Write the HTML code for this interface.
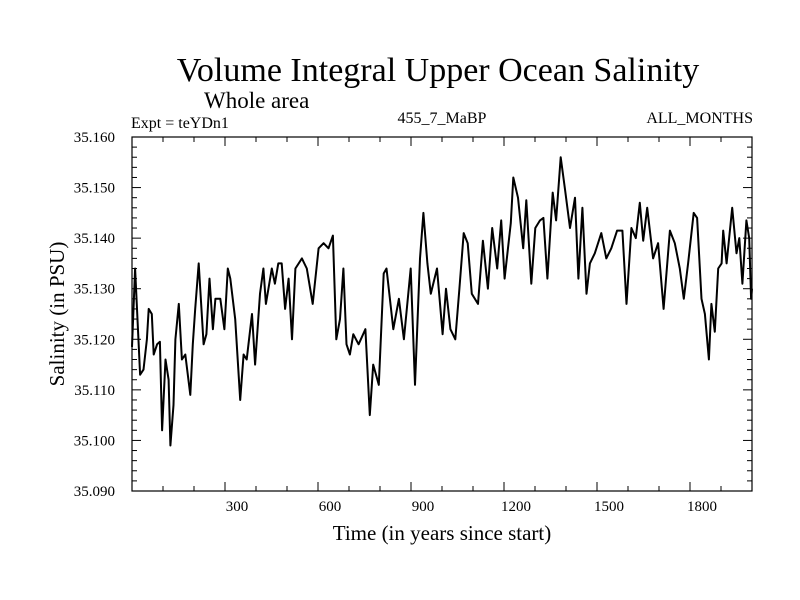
<!DOCTYPE html>
<html><head><meta charset="utf-8"><style>
body{margin:0;background:#fff;}
svg{display:block;font-family:"Liberation Serif",serif;}
</style></head><body>
<svg id="chart" width="800" height="600">
<rect width="800" height="600" fill="#fff"/>
<text x="438" y="81" font-size="34" text-anchor="middle">Volume Integral Upper Ocean Salinity</text>
<text x="204" y="108" font-size="23">Whole area</text>
<text x="131" y="128" font-size="16">Expt = teYDn1</text>
<text x="442" y="123" font-size="16" text-anchor="middle">455_7_MaBP</text>
<text x="753" y="123" font-size="16" text-anchor="end">ALL_MONTHS</text>
<text x="442" y="540" font-size="21" text-anchor="middle">Time (in years since start)</text>
<text x="0" y="0" font-size="21" text-anchor="middle" transform="translate(64,314) rotate(-90)">Salinity (in PSU)</text>
<g id="axes"></g>
</svg>
<script>
const years=[0,10,20,26,37,48,54,64,70,81,90,97,108,118,124,134,140,151,161,172,188,196,204,215,231,240,250,261,269,285,298,309,317,333,349,360,370,387,397,413,424,432,451,461,472,483,494,505,516,527,548,564,583,602,618,634,648,659,671,682,692,703,714,731,753,767,778,796,812,821,832,843,861,877,899,913,929,940,953,964,984,1002,1013,1027,1043,1056,1070,1083,1096,1116,1132,1148,1162,1178,1191,1202,1222,1230,1245,1262,1272,1288,1301,1316,1327,1340,1357,1368,1383,1397,1413,1429,1440,1453,1466,1477,1493,1514,1530,1546,1565,1582,1595,1611,1625,1638,1649,1662,1681,1697,1715,1735,1751,1767,1780,1794,1812,1823,1837,1848,1861,1869,1880,1891,1902,1907,1918,1936,1950,1959,1969,1982,1991,1997,2000];
const salinity=[35.1185,35.134,35.121,35.113,35.114,35.120,35.126,35.125,35.117,35.119,35.1195,35.102,35.116,35.112,35.099,35.107,35.120,35.127,35.116,35.117,35.109,35.119,35.126,35.135,35.119,35.121,35.132,35.122,35.128,35.128,35.122,35.134,35.132,35.124,35.108,35.117,35.116,35.125,35.115,35.129,35.134,35.127,35.134,35.131,35.135,35.135,35.126,35.132,35.120,35.134,35.136,35.134,35.127,35.138,35.139,35.138,35.1405,35.120,35.124,35.134,35.119,35.117,35.121,35.119,35.122,35.105,35.115,35.111,35.133,35.134,35.128,35.122,35.128,35.120,35.134,35.111,35.136,35.145,35.135,35.129,35.134,35.121,35.130,35.122,35.120,35.130,35.141,35.139,35.129,35.127,35.1395,35.130,35.142,35.134,35.1435,35.132,35.143,35.152,35.148,35.138,35.1475,35.131,35.142,35.1435,35.144,35.132,35.149,35.1435,35.156,35.1495,35.142,35.148,35.132,35.146,35.129,35.135,35.137,35.141,35.136,35.138,35.1415,35.1415,35.127,35.142,35.140,35.147,35.1395,35.146,35.136,35.139,35.126,35.1415,35.139,35.134,35.128,35.135,35.145,35.144,35.128,35.125,35.116,35.127,35.1215,35.134,35.135,35.1415,35.135,35.146,35.137,35.140,35.131,35.1435,35.140,35.128,35.130];
const yTicks=[35.090,35.100,35.110,35.120,35.130,35.140,35.150,35.160];
const yTickLabels=["35.090","35.100","35.110","35.120","35.130","35.140","35.150","35.160"];
const xTicks=[300,600,900,1200,1500,1800];
const xTickLabels=["300","600","900","1200","1500","1800"];

const L=132,R=752,T=137,B=491,X0=0,X1=2000,Y0=35.090,Y1=35.160;
const sx=v=>L+(v-X0)/(X1-X0)*(R-L);
const sy=v=>B-(v-Y0)/(Y1-Y0)*(B-T);
const NS="http://www.w3.org/2000/svg";
const g=document.getElementById('axes');
function mk(tag,attrs){const e=document.createElementNS(NS,tag);for(const k in attrs)e.setAttribute(k,attrs[k]);g.appendChild(e);return e;}
const frame=mk('rect',{x:L,y:T,width:R-L,height:B-T,fill:'none',stroke:'#000','stroke-width':1.2});


for(let i=0;i<=35;i++){
  const v=Y0+i*0.002;const y=sy(v);const major=i%5===0;const len=major?9:5;
  const t1=mk('line',{x1:L,x2:L+len,y1:y,y2:y,stroke:'#000','stroke-width':1});
  
  
  const t2=mk('line',{x1:R,x2:R-len,y1:y,y2:y,stroke:'#000','stroke-width':1});
  
  
}
yTicks.forEach((v,i)=>{
  const t=mk('text',{x:L-17,y:sy(v)+5,'font-size':15,'text-anchor':'end'});
  t.textContent=yTickLabels[i];
  
  
});
for(let yr=100;yr<2000;yr+=100){
  const x=sx(yr);const major=yr%300===0;const len=major?9:5;
  const t1=mk('line',{x1:x,x2:x,y1:B,y2:B-len,stroke:'#000','stroke-width':1});
  
  
  const t2=mk('line',{x1:x,x2:x,y1:T,y2:T+len,stroke:'#000','stroke-width':1});
  
  
}
xTicks.forEach((v,i)=>{
  const t=mk('text',{x:sx(v)+12,y:511,'font-size':15,'text-anchor':'middle'});
  t.textContent=xTickLabels[i];
  
  
});
const d=years.map((yr,i)=>(i?'L':'M')+sx(yr).toFixed(1)+','+sy(salinity[i]).toFixed(1)).join('');
const line=mk('path',{d:d,fill:'none',stroke:'#000','stroke-width':2,'stroke-linejoin':'round'});


</script>
</body></html>
